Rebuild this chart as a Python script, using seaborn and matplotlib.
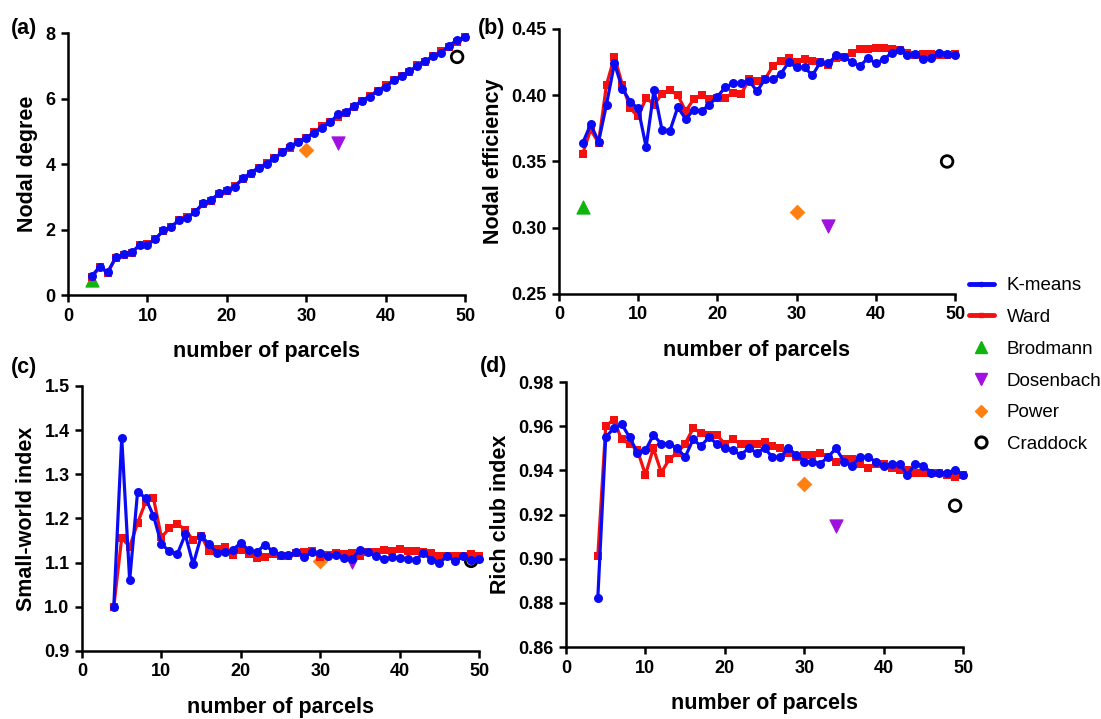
import matplotlib
matplotlib.use("Agg")
import matplotlib.pyplot as plt
import seaborn as sns
import pandas as pd
import numpy as np
from matplotlib.lines import Line2D

# ---- data ----
x_a = list(range(3, 51))
x_c = list(range(4, 51))

kmeans_degree = [0.59, 0.86, 0.70, 1.15, 1.24, 1.30, 1.52, 1.54, 1.70, 1.98,
                 2.08, 2.29, 2.34, 2.54, 2.80, 2.90, 3.10, 3.20, 3.31, 3.56,
                 3.73, 3.89, 3.99, 4.17, 4.37, 4.55, 4.68, 4.79, 4.96, 5.11,
                 5.27, 5.52, 5.58, 5.76, 5.93, 6.06, 6.24, 6.34, 6.56, 6.69,
                 6.83, 7.00, 7.14, 7.31, 7.40, 7.61, 7.79, 7.88]
ward_degree = [0.55, 0.85, 0.68, 1.13, 1.23, 1.29, 1.52, 1.55, 1.72, 1.96,
               2.08, 2.30, 2.38, 2.52, 2.78, 2.88, 3.08, 3.19, 3.33, 3.53,
               3.69, 3.88, 4.02, 4.17, 4.36, 4.50, 4.68, 4.80, 4.97, 5.15,
               5.27, 5.45, 5.57, 5.75, 5.93, 6.08, 6.24, 6.40, 6.56, 6.70,
               6.82, 7.01, 7.10, 7.31, 7.44, 7.58, 7.72, 7.89]

kmeans_eff = [0.364, 0.378, 0.365, 0.393, 0.424, 0.405, 0.395, 0.390, 0.361, 0.404,
              0.374, 0.373, 0.391, 0.382, 0.389, 0.388, 0.393, 0.399, 0.406, 0.409,
              0.409, 0.411, 0.403, 0.412, 0.412, 0.416, 0.425, 0.421, 0.421, 0.415,
              0.425, 0.424, 0.430, 0.429, 0.425, 0.422, 0.428, 0.424, 0.427, 0.432,
              0.434, 0.430, 0.431, 0.427, 0.428, 0.432, 0.431, 0.430]
ward_eff = [0.356, 0.374, 0.364, 0.408, 0.429, 0.408, 0.390, 0.384, 0.398, 0.393,
            0.401, 0.404, 0.400, 0.388, 0.397, 0.400, 0.397, 0.398, 0.398, 0.402,
            0.401, 0.412, 0.411, 0.412, 0.422, 0.426, 0.428, 0.425, 0.427, 0.426,
            0.425, 0.423, 0.428, 0.429, 0.432, 0.435, 0.435, 0.436, 0.436, 0.435,
            0.434, 0.432, 0.430, 0.431, 0.431, 0.430, 0.430, 0.431]

kmeans_sw = [1.000, 1.383, 1.060, 1.261, 1.246, 1.206, 1.142, 1.126, 1.119, 1.164,
             1.096, 1.160, 1.142, 1.122, 1.125, 1.129, 1.145, 1.128, 1.123, 1.141,
             1.126, 1.118, 1.117, 1.125, 1.113, 1.123, 1.122, 1.115, 1.118, 1.111,
             1.108, 1.129, 1.123, 1.116, 1.108, 1.112, 1.110, 1.109, 1.106, 1.122,
             1.106, 1.100, 1.114, 1.103, 1.114, 1.105, 1.108]
ward_sw = [1.000, 1.156, 1.136, 1.190, 1.237, 1.246, 1.157, 1.178, 1.188, 1.174,
           1.151, 1.161, 1.126, 1.130, 1.135, 1.118, 1.129, 1.120, 1.111, 1.113,
           1.120, 1.114, 1.115, 1.121, 1.123, 1.127, 1.112, 1.117, 1.121, 1.119,
           1.121, 1.114, 1.123, 1.123, 1.128, 1.126, 1.130, 1.127, 1.126, 1.123,
           1.122, 1.116, 1.114, 1.114, 1.114, 1.119, 1.114]

kmeans_rc = [0.882, 0.955, 0.959, 0.961, 0.955, 0.948, 0.949, 0.956, 0.952, 0.952,
             0.950, 0.946, 0.954, 0.951, 0.955, 0.952, 0.950, 0.949, 0.947, 0.950,
             0.948, 0.950, 0.946, 0.946, 0.950, 0.947, 0.944, 0.944, 0.943, 0.946,
             0.950, 0.944, 0.942, 0.946, 0.946, 0.944, 0.942, 0.943, 0.943, 0.938,
             0.943, 0.942, 0.939, 0.939, 0.939, 0.940, 0.938]
ward_rc = [0.901, 0.960, 0.963, 0.954, 0.952, 0.949, 0.938, 0.950, 0.939, 0.945,
           0.948, 0.952, 0.959, 0.957, 0.956, 0.956, 0.952, 0.954, 0.952, 0.952,
           0.952, 0.953, 0.951, 0.950, 0.948, 0.946, 0.947, 0.947, 0.948, 0.946,
           0.944, 0.945, 0.945, 0.943, 0.941, 0.943, 0.943, 0.941, 0.940, 0.940,
           0.939, 0.939, 0.939, 0.939, 0.938, 0.937, 0.938]

# single-atlas reference points: (n parcels, value) per panel
brodmann_x = 3
dosenbach_x = 34
power_x = 30
craddock_x = 49
brodmann_vals = [0.45, 0.316, None, None]
dosenbach_vals = [4.65, 0.301, 1.101, 0.915]
power_vals = [4.42, 0.312, 1.103, 0.934]
craddock_vals = [7.27, 0.350, 1.104, 0.924]

panel_tags = ["(a)", "(b)", "(c)", "(d)"]
y_labels = ["Nodal degree", "Nodal efficiency", "Small-world index", "Rich club index"]
y_limits = [(0, 8), (0.25, 0.45), (0.9, 1.5), (0.86, 0.98)]
y_ticks = [[0, 2, 4, 6, 8],
           [0.25, 0.30, 0.35, 0.40, 0.45],
           [0.9, 1.0, 1.1, 1.2, 1.3, 1.4, 1.5],
           [0.86, 0.88, 0.90, 0.92, 0.94, 0.96, 0.98]]
y_fmt = ["{:.0f}", "{:.2f}", "{:.1f}", "{:.2f}"]

series = [
    (x_a, kmeans_degree, ward_degree),
    (x_a, kmeans_eff, ward_eff),
    (x_c, kmeans_sw, ward_sw),
    (x_c, kmeans_rc, ward_rc),
]

BLUE = "#0a0af5"
RED = "#f51010"
GREEN = "#0fb40f"
PURPLE = "#a010e0"
ORANGE = "#ff8010"

sns.set_style("ticks")
plt.rcParams['font.family'] = ['Liberation Sans', 'DejaVu Sans']
for key in ['text.color', 'axes.labelcolor', 'xtick.color', 'ytick.color', 'axes.edgecolor']:
    plt.rcParams[key] = 'black'

fig = plt.figure(figsize=(11.01, 7.19), dpi=100)
positions = [
    [0.0618, 0.5897, 0.3606, 0.3644],
    [0.5077, 0.5911, 0.3597, 0.3686],
    [0.0745, 0.0946, 0.3606, 0.3686],
    [0.5141, 0.1001, 0.3606, 0.3686],
]
tag_pos = [(0.010, 0.975), (0.434, 0.975), (0.010, 0.503), (0.436, 0.505)]

for i, (xs, km, wd) in enumerate(series):
    ax = fig.add_axes(positions[i])

    # reference atlases first so the curves sit on top
    if brodmann_vals[i] is not None:
        sns.scatterplot(x=[brodmann_x], y=[brodmann_vals[i]], marker="^", s=90,
                        color=GREEN, edgecolor=GREEN, ax=ax, zorder=2, clip_on=False)
    sns.scatterplot(x=[dosenbach_x], y=[dosenbach_vals[i]], marker="v", s=90,
                    color=PURPLE, edgecolor=PURPLE, ax=ax, zorder=2, clip_on=False)
    sns.scatterplot(x=[power_x], y=[power_vals[i]], marker="D", s=55,
                    color=ORANGE, edgecolor=ORANGE, ax=ax, zorder=2, clip_on=False)
    sns.scatterplot(x=[craddock_x], y=[craddock_vals[i]], marker="o", s=70,
                    facecolor="none", edgecolor="black", linewidth=2.0, ax=ax,
                    zorder=2, clip_on=False)

    df = pd.DataFrame({"n": xs, "K-means": km, "Ward": wd})
    sns.lineplot(data=df, x="n", y="Ward", color=RED, marker="s", markersize=6,
                 markeredgewidth=0, linewidth=2.3, ax=ax, zorder=3, clip_on=False)
    sns.lineplot(data=df, x="n", y="K-means", color=BLUE, marker="o", markersize=6.5,
                 markeredgewidth=0, linewidth=2.3, ax=ax, zorder=4, clip_on=False)

    ax.set_xlim(0, 50)
    ax.set_ylim(*y_limits[i])
    ax.set_xticks([0, 10, 20, 30, 40, 50])
    ax.set_yticks(y_ticks[i])
    ax.set_yticklabels([y_fmt[i].format(v) for v in y_ticks[i]])
    ax.set_xlabel("number of parcels", fontsize=15.5, fontweight="bold", labelpad=12)
    ax.set_ylabel(y_labels[i], fontsize=15.5, fontweight="bold", labelpad=5)
    sns.despine(ax=ax)
    for s in ["left", "bottom"]:
        ax.spines[s].set_linewidth(1.8)
    ax.tick_params(axis="both", direction="out", length=5, width=1.8,
                   labelsize=13, pad=4)
    for lab in ax.get_xticklabels() + ax.get_yticklabels():
        lab.set_fontweight("bold")

    fig.text(tag_pos[i][0], tag_pos[i][1], panel_tags[i], fontsize=15.5,
             fontweight="bold", ha="left", va="top")

handles = [
    Line2D([], [], color=BLUE, marker="o", markersize=3, linewidth=3.5),
    Line2D([], [], color=RED, marker="s", markersize=3, linewidth=3.5),
    Line2D([], [], color=GREEN, marker="^", markersize=8, linestyle="none"),
    Line2D([], [], color=PURPLE, marker="v", markersize=8, linestyle="none"),
    Line2D([], [], color=ORANGE, marker="D", markersize=6, linestyle="none"),
    Line2D([], [], color="black", marker="o", markersize=8, markerfacecolor="none",
           markeredgewidth=2.2, linestyle="none"),
]
labels = ["K-means", "Ward", "Brodmann", "Dosenbach", "Power", "Craddock"]
fig.legend(handles, labels, loc="upper left", bbox_to_anchor=(0.865, 0.638),
           frameon=False, fontsize=13.5, handlelength=1.3, handletextpad=0.7,
           labelspacing=0.78)

plt.savefig("out.png", dpi=100)
plt.close()
